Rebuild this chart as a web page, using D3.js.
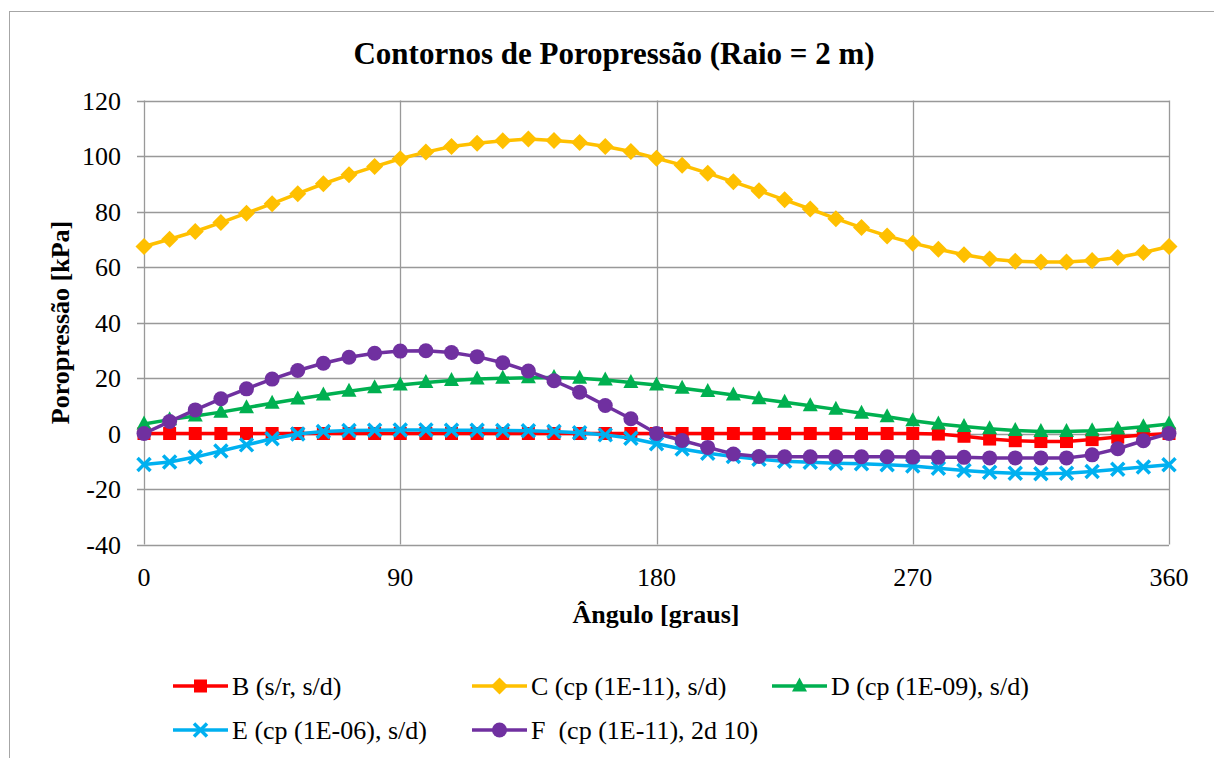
<!DOCTYPE html>
<html lang="pt">
<head>
    <meta charset="UTF-8">
    <title>Contornos de Poropressão</title>
    <script src="https://d3js.org/d3.v7.min.js"></script>
    <style>
        body { margin: 0; background: #fff; }
        text { font-family: "Liberation Serif", "Times New Roman", Times, "DejaVu Serif", serif; fill: #000; white-space: pre; }
    </style>
</head>
<body>
    <svg width="1214" height="758" font-family="Liberation Serif, Times New Roman, serif"></svg>
    <script>
        // Ângulo [graus]
        var angles = [0, 9, 18, 27, 36, 45, 54, 63, 72, 81, 90, 99, 108, 117, 126, 135, 144, 153, 162, 171,
                      180, 189, 198, 207, 216, 225, 234, 243, 252, 261, 270, 279, 288, 297, 306, 315, 324, 333, 342, 351, 360];

        var serieB = [0, 0, 0, 0, 0, 0, 0, 0, 0, 0, 0, 0, 0, 0, 0, 0, 0, 0, 0, 0,
                      0, 0, 0, 0, 0, 0, 0, 0, 0, 0, 0, -0.2, -1.0, -2.0, -2.6, -2.9, -2.9, -2.2, -1.3, -0.5, 0];
        var serieC = [67.4, 70.0, 72.8, 76.0, 79.4, 82.8, 86.4, 90.0, 93.2, 96.2, 99.0, 101.4, 103.4, 104.6, 105.5, 106.1, 105.6, 104.9, 103.4, 101.6,
                      99.2, 96.7, 93.8, 90.7, 87.5, 84.2, 80.9, 77.4, 74.2, 71.2, 68.6, 66.4, 64.4, 62.9, 62.1, 61.8, 61.8, 62.3, 63.4, 65.2, 67.4];
        var serieD = [3.4, 5.0, 6.3, 7.7, 9.3, 10.9, 12.4, 13.9, 15.2, 16.5, 17.5, 18.4, 19.1, 19.6, 19.9, 20.1, 20.2, 19.9, 19.3, 18.4,
                      17.5, 16.3, 15.1, 13.9, 12.5, 11.3, 10.0, 8.7, 7.3, 6.0, 4.6, 3.4, 2.5, 1.7, 1.1, 0.7, 0.7, 1.0, 1.6, 2.4, 3.4];
        var serieE = [-11.2, -10.3, -8.5, -6.3, -4.1, -1.9, -0.2, 0.7, 1.1, 1.2, 1.3, 1.3, 1.2, 1.2, 1.1, 1.0, 0.7, 0.3, -0.5, -1.7,
                      -3.7, -5.6, -7.1, -8.3, -9.3, -10.0, -10.4, -10.7, -10.9, -11.3, -11.7, -12.5, -13.3, -14.0, -14.3, -14.5, -14.3, -13.7, -12.9, -12.1, -11.3];
        var serieF = [0, 4.3, 8.5, 12.5, 16.1, 19.6, 22.7, 25.3, 27.5, 28.9, 29.7, 29.8, 29.2, 27.7, 25.5, 22.5, 19.0, 14.9, 10.1, 5.3,
                      0, -2.5, -5.0, -7.4, -8.3, -8.4, -8.4, -8.4, -8.4, -8.4, -8.5, -8.6, -8.6, -8.8, -8.8, -8.8, -8.8, -7.7, -5.5, -2.6, 0];

        var xTicks = [0, 90, 180, 270, 360];
        var yTicks = [-40, -20, 0, 20, 40, 60, 80, 100, 120];

        var series = [
            {name: "B (s/r, s/d)", values: serieB, color: "#ff0000", symbol: "square"},
            {name: "C (cp (1E-11), s/d)", values: serieC, color: "#ffc000", symbol: "diamond"},
            {name: "D (cp (1E-09), s/d)", values: serieD, color: "#00b050", symbol: "triangle"},
            {name: "E (cp (1E-06), s/d)", values: serieE, color: "#00b0f0", symbol: "cross"},
            {name: "F  (cp (1E-11), 2d 10)", values: serieF, color: "#7030a0", symbol: "circle"}
        ];

        var fonte = '"Liberation Serif", "Times New Roman", Times, "DejaVu Serif", serif';
        var svg = d3.select("svg");

        // moldura do gráfico
        svg.append("rect")
            .attr("x", 9.5).attr("y", 11.5)
            .attr("width", 1220).attr("height", 760)
            .attr("fill", "none").attr("stroke", "#a6a6a6").attr("stroke-width", 1);

        var x = d3.scaleLinear().domain([0, 360]).range([144, 1169]);
        var y = d3.scaleLinear().domain([-40, 120]).range([544.5, 100.5]);

        // grade
        svg.append("g").selectAll("line.h")
            .data(yTicks).enter().append("line")
            .attr("x1", 137).attr("x2", x(360))
            .attr("y1", function(d) { return Math.round(y(d)) + 0.5; })
            .attr("y2", function(d) { return Math.round(y(d)) + 0.5; })
            .attr("stroke", "#999").attr("stroke-width", 1.3);

        svg.append("g").selectAll("line.v")
            .data(xTicks).enter().append("line")
            .attr("x1", function(d) { return Math.round(x(d)) + 0.5; })
            .attr("x2", function(d) { return Math.round(x(d)) + 0.5; })
            .attr("y1", y(120)).attr("y2", y(-40))
            .attr("stroke", "#999").attr("stroke-width", 1.3);

        // rótulos dos eixos
        svg.append("g").selectAll("text")
            .data(yTicks).enter().append("text")
            .attr("x", 121)
            .attr("y", function(d) { return y(d) + 9; })
            .attr("text-anchor", "end")
            .style("font-family", fonte)
            .style("font-size", "26px")
            .text(function(d) { return d; });

        svg.append("g").selectAll("text")
            .data(xTicks).enter().append("text")
            .attr("x", function(d) { return x(d); })
            .attr("y", 586)
            .attr("text-anchor", "middle")
            .style("font-family", fonte)
            .style("font-size", "26px")
            .text(function(d) { return d; });

        // linhas e marcadores
        var line = d3.line()
            .x(function(d) { return x(d[0]); })
            .y(function(d) { return y(d[1]); });

        function marker(sel, s, cx, cy) {
            if (s.symbol === "square") {
                sel.append("rect").attr("x", cx - 6.5).attr("y", cy - 6.5)
                    .attr("width", 13).attr("height", 13).attr("fill", s.color);
            } else if (s.symbol === "diamond") {
                sel.append("path").attr("d", "M" + cx + "," + (cy - 8.5) + "L" + (cx + 8.5) + "," + cy +
                    "L" + cx + "," + (cy + 8.5) + "L" + (cx - 8.5) + "," + cy + "Z").attr("fill", s.color);
            } else if (s.symbol === "triangle") {
                sel.append("path").attr("d", "M" + cx + "," + (cy - 8.5) + "L" + (cx + 7.5) + "," + (cy + 5.5) +
                    "L" + (cx - 7.5) + "," + (cy + 5.5) + "Z").attr("fill", s.color);
            } else if (s.symbol === "cross") {
                sel.append("path").attr("d", "M" + (cx - 6.5) + "," + (cy - 6.5) + "L" + (cx + 6.5) + "," + (cy + 6.5) +
                    "M" + (cx + 6.5) + "," + (cy - 6.5) + "L" + (cx - 6.5) + "," + (cy + 6.5))
                    .attr("stroke", s.color).attr("stroke-width", 3.5).attr("fill", "none");
            } else {
                sel.append("circle").attr("cx", cx).attr("cy", cy).attr("r", 7.5).attr("fill", s.color);
            }
        }

        series.forEach(function(s) {
            var pts = angles.map(function(a, i) { return [a, s.values[i]]; });
            var g = svg.append("g");
            g.append("path")
                .datum(pts)
                .attr("d", line)
                .attr("fill", "none")
                .attr("stroke", s.color)
                .attr("stroke-width", 3.5)
                .attr("stroke-linejoin", "round");
            pts.forEach(function(p) { marker(g, s, x(p[0]), y(p[1])); });
        });

        // título
        svg.append("text")
            .attr("x", 614).attr("y", 64)
            .attr("text-anchor", "middle")
            .style("font-family", fonte)
            .style("font-size", "31px").style("font-weight", "bold")
            .text("Contornos de Poropressão (Raio = 2 m)");

        svg.append("text")
            .attr("transform", "translate(69," + ((y(120) + y(-40)) / 2) + ") rotate(-90)")
            .attr("text-anchor", "middle")
            .style("font-family", fonte)
            .style("font-size", "26px").style("font-weight", "bold")
            .text("Poropressão [kPa]");

        svg.append("text")
            .attr("x", 656).attr("y", 623)
            .attr("text-anchor", "middle")
            .style("font-family", fonte)
            .style("font-size", "26px").style("font-weight", "bold")
            .text("Ângulo [graus]");

        // legenda
        var legPos = [[173, 686], [472, 686], [772, 686], [173, 730], [472, 730]];
        series.forEach(function(s, i) {
            var lx = legPos[i][0], ly = legPos[i][1];
            var g = svg.append("g");
            g.append("line").attr("x1", lx).attr("x2", lx + 55).attr("y1", ly).attr("y2", ly)
                .attr("stroke", s.color).attr("stroke-width", 3.5);
            marker(g, s, lx + 27.5, ly);
            g.append("text").attr("x", lx + 59).attr("y", ly + 9)
                .style("font-family", fonte)
                .style("font-size", "26px")
                .text(s.name);
        });
    </script>
</body>
</html>
